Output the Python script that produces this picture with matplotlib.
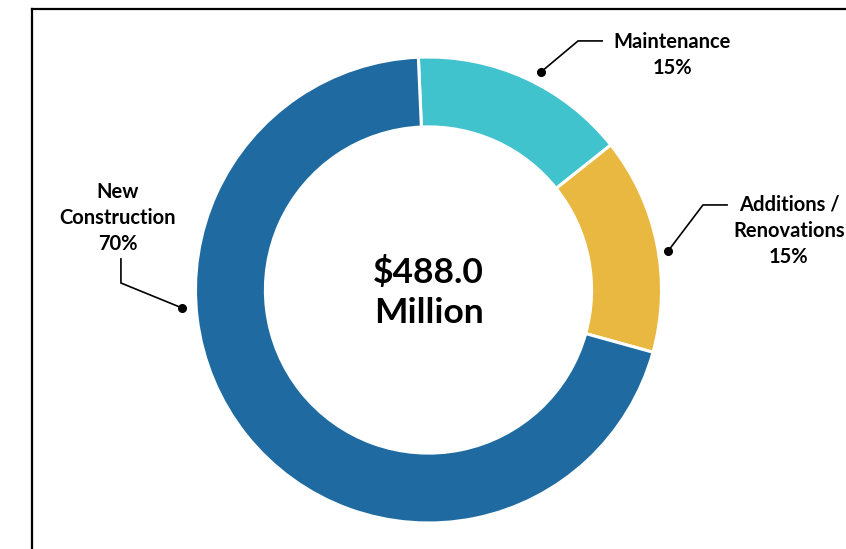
import numpy as np
import matplotlib.pyplot as plt
from matplotlib.lines import Line2D

# spending split by project type
labels = ['Maintenance', 'Additions /\nRenovations', 'New\nConstruction']
shares = [15, 15, 70]
colors = ['#41c3cd', '#e9b840', '#1f6ba1']
total_label = '$488.0\nMillion'

W, H = 846, 549
fig = plt.figure(figsize=(W / 100, H / 100), dpi=100)

cx, cy, R = 428.5, 290, 233
ax = fig.add_axes([(cx - R) / W, (H - cy - R) / H, 2 * R / W, 2 * R / H])
ax.axis('off')

ax.pie(shares, colors=colors, startangle=92.5, counterclock=False, radius=1,
       wedgeprops=dict(width=0.3, edgecolor='white', linewidth=2.2))
ax.set_xlim(-1, 1)
ax.set_ylim(-1, 1)

ax.text(0, -0.01, total_label, ha='center', va='center', fontsize=25.5,
        fontweight='bold', family='Lato', linespacing=1.33)

lab_font = dict(fontsize=14.5, fontweight='bold', family='Lato',
                ha='center', va='center', linespacing=1.38, clip_on=False)

def leader(pts):
    xs, ys = zip(*pts)
    ax.plot(xs, ys, color='black', lw=1.2, clip_on=False, solid_capstyle='butt')
    ax.plot(xs[0], ys[0], 'o', color='black', ms=5.5, clip_on=False)

# Maintenance
leader([(0.483, 0.936), (0.642, 1.069), (0.749, 1.069)])
ax.text(1.045, 1.01, f'{labels[0]}\n{shares[0]}%', **lab_font)

# Additions / Renovations
leader([(1.028, 0.167), (1.178, 0.365), (1.285, 0.365)])
ax.text(1.547, 0.255, f'{labels[1]}\n{shares[1]}%', **lab_font)

# New Construction
leader([(-1.058, -0.077), (-1.320, 0.030), (-1.320, 0.137)])
ax.text(-1.333, 0.31, f'{labels[2]}\n{shares[2]}%', **lab_font)

# frame on top and left
fig.add_artist(Line2D([32 / W, 32 / W], [0, 1 - 9 / H], color='black', lw=1.6,
                      transform=fig.transFigure))
fig.add_artist(Line2D([32 / W, 1], [1 - 9 / H, 1 - 9 / H], color='black', lw=1.6,
                      transform=fig.transFigure))

fig.savefig('out.png', dpi=100)
